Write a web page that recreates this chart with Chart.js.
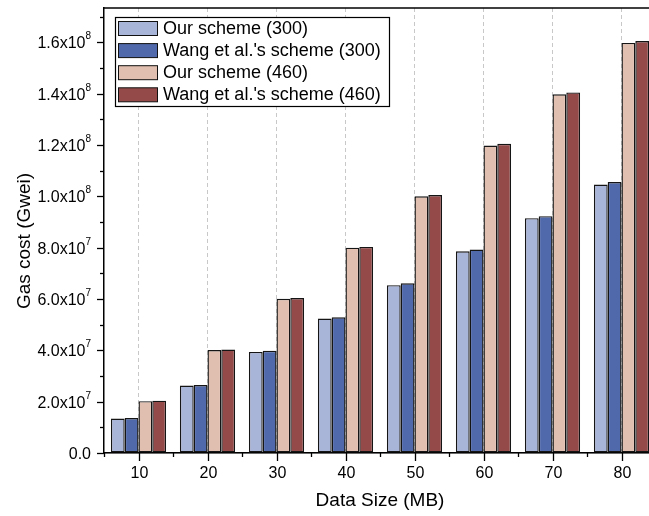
<!DOCTYPE html>
<html>
<head>
<meta charset="utf-8">
<script src="https://cdn.jsdelivr.net/npm/chart.js@4.4.1/dist/chart.umd.min.js"></script>
<style>
  html, body { margin: 0; padding: 0; background: #fff; overflow: hidden; }
  #wrap { width: 660px; height: 516px; }
</style>
</head>
<body>
<div id="wrap"><canvas id="gasChart" width="660" height="516"></canvas></div>
<script>
const dataSizes = ['10', '20', '30', '40', '50', '60', '70', '80'];
const ourScheme300 = [1.34e7, 2.63e7, 3.94e7, 5.24e7, 6.54e7, 7.86e7, 9.15e7, 1.046e8];
const wangScheme300 = [1.36e7, 2.65e7, 3.98e7, 5.29e7, 6.61e7, 7.93e7, 9.23e7, 1.056e8];
const ourScheme460 = [2.02e7, 4.01e7, 6.01e7, 8.0e7, 1.0e8, 1.198e8, 1.398e8, 1.598e8];
const wangScheme460 = [2.04e7, 4.03e7, 6.04e7, 8.03e7, 1.005e8, 1.205e8, 1.405e8, 1.605e8];
const yMajorTicks = [0, 2e7, 4e7, 6e7, 8e7, 1e8, 1.2e8, 1.4e8, 1.6e8];

const FONT = '"Liberation Sans", Arial, sans-serif';

function yLabelParts(v) {
    if (v === 0) return ['0.0', ''];
    const exp = Math.floor(Math.log10(v) + 1e-9);
    const mant = v / Math.pow(10, exp);
    return [mant.toFixed(1) + 'x10', String(exp)];
}

// axes, ticks, titles, frame and legend box drawn on top of the chart
const decorPlugin = {
    id: 'decor',
    afterDraw(chart) {
        const ctx = chart.ctx;
        const area = chart.chartArea;
        const x = chart.scales.x;
        const y = chart.scales.y;
        ctx.save();
        ctx.strokeStyle = '#000';
        ctx.fillStyle = '#000';

        // top frame line
        ctx.lineWidth = 1.5;
        ctx.beginPath();
        ctx.moveTo(area.left, area.top);
        ctx.lineTo(area.right, area.top);
        ctx.stroke();

        // y ticks
        ctx.lineWidth = 1.3;
        yMajorTicks.forEach((v, i) => {
            const py = Math.round(y.getPixelForValue(v)) + 0.5;
            ctx.beginPath();
            ctx.moveTo(area.left - 7, py);
            ctx.lineTo(area.left, py);
            ctx.stroke();
            const mid = v + 1e7;
            if (mid < y.max) {
                const my = Math.round(y.getPixelForValue(mid)) + 0.5;
                ctx.beginPath();
                ctx.moveTo(area.left - 4, my);
                ctx.lineTo(area.left, my);
                ctx.stroke();
            }
            const [base, sup] = yLabelParts(v);
            ctx.font = '10px ' + FONT;
            const supW = sup ? ctx.measureText(sup).width : 0;
            const right = 91;
            if (sup) {
                ctx.textAlign = 'left';
                ctx.textBaseline = 'alphabetic';
                ctx.fillText(sup, right - supW, py - 4);
            }
            ctx.font = '16px ' + FONT;
            ctx.textAlign = 'right';
            ctx.textBaseline = 'middle';
            ctx.fillText(base, right - supW, py + 1);
        });

        // x ticks: major at categories, minor between
        dataSizes.forEach((lab, i) => {
            const px = Math.round(x.getPixelForValue(i)) + 0.5;
            ctx.beginPath();
            ctx.moveTo(px, area.bottom);
            ctx.lineTo(px, area.bottom + 8);
            ctx.stroke();
            const bx = Math.round(x.getPixelForValue(i) - (x.getPixelForValue(1) - x.getPixelForValue(0)) / 2) + 0.5;
            ctx.beginPath();
            ctx.moveTo(bx, area.bottom);
            ctx.lineTo(bx, area.bottom + 4);
            ctx.stroke();
            ctx.font = '16px ' + FONT;
            ctx.textAlign = 'center';
            ctx.textBaseline = 'middle';
            ctx.fillText(lab, px, 474);
        });

        // axis titles
        ctx.font = '19px ' + FONT;
        ctx.textAlign = 'center';
        ctx.textBaseline = 'middle';
        ctx.fillText('Data Size (MB)', (area.left + area.right) / 2, 501);
        ctx.save();
        ctx.translate(25, 241);
        ctx.rotate(-Math.PI / 2);
        ctx.fillText('Gas cost (Gwei)', 0, 0);
        ctx.restore();

        // legend
        ctx.fillStyle = '#fff';
        ctx.fillRect(115.5, 17.5, 274, 89);
        ctx.lineWidth = 1.2;
        ctx.strokeStyle = '#000';
        ctx.strokeRect(115.5, 17.5, 274, 89);
        chart.data.datasets.forEach((ds, i) => {
            const top = 21.5 + i * 22.1;
            ctx.fillStyle = ds.backgroundColor;
            ctx.fillRect(118.5, top, 39, 14);
            ctx.lineWidth = 1;
            ctx.strokeStyle = '#111';
            ctx.strokeRect(118.5, top, 39, 14);
            ctx.fillStyle = '#000';
            ctx.font = '18px ' + FONT;
            ctx.textAlign = 'left';
            ctx.textBaseline = 'middle';
            ctx.fillText(ds.label, 163, top + 7.5);
        });
        ctx.restore();
    }
};

new Chart(document.getElementById('gasChart'), {
    type: 'bar',
    data: {
        labels: dataSizes,
        datasets: [
            { label: 'Our scheme (300)', data: ourScheme300, backgroundColor: '#a8b4d8' },
            { label: "Wang et al.'s scheme (300)", data: wangScheme300, backgroundColor: '#4f69ab' },
            { label: 'Our scheme (460)', data: ourScheme460, backgroundColor: '#e1bfb0' },
            { label: "Wang et al.'s scheme (460)", data: wangScheme460, backgroundColor: '#954a4a' },
        ],
    },
    options: {
        responsive: false,
        animation: false,
        events: [],
        layout: { padding: { left: 104, top: 8, right: 4, bottom: 63 } },
        datasets: {
            bar: {
                borderColor: '#151515',
                borderWidth: 1.4,
                borderSkipped: false,
                categoryPercentage: 0.8,
                barPercentage: 1.0,
            },
        },
        scales: {
            x: {
                offset: true,
                grid: {
                    offset: false,
                    color: '#c8c8c8',
                    lineWidth: 1,
                    drawTicks: false,
                },
                border: { display: true, color: '#000', width: 1.5, dash: [4, 3] },
                ticks: { display: false },
            },
            y: {
                min: 0,
                max: 1.734e8,
                grid: {
                    color: (c) => (c.tick && c.tick.value % 2e7 === 0 ? '#d4d4d4' : 'rgba(0,0,0,0)'),
                    lineWidth: 1,
                    drawTicks: false,
                },
                border: { display: true, color: '#000', width: 1.5 },
                ticks: { display: false, stepSize: 2e7 },
            },
        },
        plugins: {
            legend: { display: false },
            tooltip: { enabled: false },
        },
    },
    plugins: [decorPlugin],
});
</script>
</body>
</html>
